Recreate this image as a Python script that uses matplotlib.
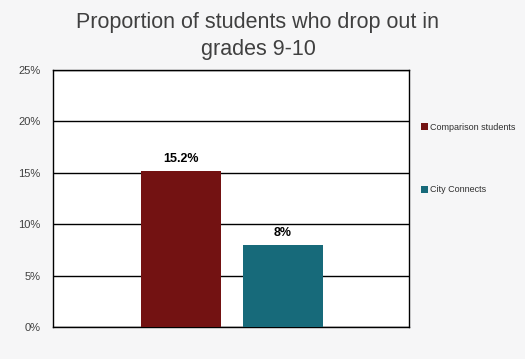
import matplotlib.pyplot as plt
from matplotlib.patches import Patch
from matplotlib.ticker import PercentFormatter
from matplotlib import font_manager

# data
series = ['Comparison students', 'City Connects']
values = [15.2, 8]
value_labels = ['15.2%', '8%']
colors = ['#731212', '#176a7a']
yticks = [0, 5, 10, 15, 20, 25]

names = {f.name for f in font_manager.fontManager.ttflist}
narrow = 'Liberation Sans Narrow' if 'Liberation Sans Narrow' in names else 'Liberation Sans'
plt.rcParams['font.family'] = ['Liberation Sans', 'DejaVu Sans']

fig = plt.figure(figsize=(5.25, 3.59), dpi=100, facecolor='#f6f6f7')
ax = fig.add_axes([53 / 525, 1 - 327 / 359, 356 / 525, 257 / 359])
ax.set_facecolor('white')

x = list(range(len(values)))
bars = ax.bar(x, values, width=0.784, color=colors, zorder=3)
for b, lab in zip(bars, value_labels):
    ax.text(b.get_x() + b.get_width() / 2, b.get_height() + 0.6, lab,
            ha='center', va='bottom', fontsize=9, fontweight='bold', zorder=4)

ax.set_xlim(-1.255, 2.235)
ax.set_ylim(0, 25)
ax.set_yticks(yticks)
ax.yaxis.set_major_formatter(PercentFormatter(decimals=0))
ax.set_xticks([])
ax.tick_params(axis='y', length=0, pad=9, labelsize=8, labelcolor='#404040')
ax.grid(axis='y', color='black', linewidth=1, zorder=1)
for s in ax.spines.values():
    s.set_color('black')
    s.set_linewidth(1)

handles = [Patch(facecolor=c, edgecolor='none') for c in colors]
leg = fig.legend(handles, series, loc='upper left', bbox_to_anchor=(421 / 525, 1 - 123 / 359),
                 frameon=False, fontsize=6.5, handlelength=0.8, handleheight=0.8,
                 handletextpad=0.2, labelspacing=5.9, borderaxespad=0, borderpad=0)
for t in leg.get_texts():
    t.set_color('#303030')
    t.set_family(narrow)

fig.text(258 / 525, 1 - 36 / 359, 'Proportion of students who drop out in\ngrades 9-10',
         ha='center', va='center', fontsize=15.5, color='#404040', family=narrow,
         linespacing=1.4)

fig.savefig('out.png', dpi=100, facecolor=fig.get_facecolor())
